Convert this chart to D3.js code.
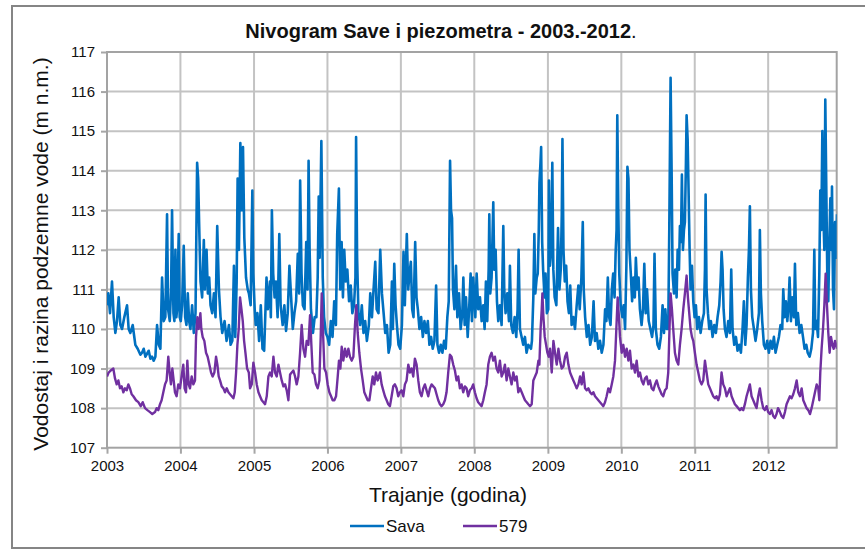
<!DOCTYPE html>
<html>
<head>
<meta charset="utf-8">
<script src="https://cdn.jsdelivr.net/npm/d3@7"></script>
<style>
  html, body { margin: 0; padding: 0; background: #fff; }
  svg { display: block; font-family: "Liberation Sans", Arial, sans-serif; }
</style>
</head>
<body>
<svg id="chart" width="865" height="550"></svg>
<script>
// Water level of the Sava river and groundwater level in piezometer 579, 2003-2012.
// Times are decimal years, levels in m a.s.l.

const years = [2003, 2004, 2005, 2006, 2007, 2008, 2009, 2010, 2011, 2012];
const levelTicks = [107, 108, 109, 110, 111, 112, 113, 114, 115, 116, 117];
const seriesNames = ["Sava", "579"];

const savaT = [
  2003.000,2003.018,2003.041,2003.068,2003.091,2003.114,2003.136,2003.159,2003.182,2003.205,2003.236,2003.273,2003.295,2003.318,2003.350,2003.386,2003.418,2003.455,2003.477,2003.500,2003.523,2003.568,2003.591,2003.614,2003.636,2003.659,2003.682,2003.705,2003.727,2003.750,2003.773,2003.795,2003.818,2003.832,2003.855,2003.873,2003.886,2003.905,2003.918,2003.932,2003.945,2003.955,2003.977,2003.990,
  2004.005,2004.023,2004.045,2004.064,2004.082,2004.100,2004.118,2004.136,2004.159,2004.182,2004.205,2004.227,2004.241,2004.255,2004.273,2004.295,2004.318,2004.332,2004.355,2004.373,2004.391,2004.409,2004.432,2004.455,2004.477,2004.500,2004.523,2004.545,2004.568,2004.600,2004.627,2004.659,2004.682,2004.705,2004.727,2004.745,2004.764,2004.777,2004.795,2004.814,2004.832,2004.850,2004.868,2004.891,2004.914,2004.930,2004.954,2004.977,2004.990,
  2005.009,2005.023,2005.046,2005.069,2005.092,2005.115,2005.138,2005.170,2005.188,2005.216,2005.229,2005.243,2005.261,2005.280,2005.298,2005.321,2005.344,2005.362,2005.390,2005.413,2005.436,2005.459,2005.482,2005.505,2005.528,2005.550,2005.573,2005.596,2005.615,2005.628,2005.647,2005.665,2005.688,2005.711,2005.729,2005.743,2005.757,2005.775,2005.803,2005.826,2005.849,2005.867,2005.881,2005.894,2005.917,2005.936,2005.954,2005.977,
  2006.000,2006.023,2006.046,2006.069,2006.092,2006.115,2006.133,2006.156,2006.174,2006.193,2006.211,2006.229,2006.248,2006.271,2006.294,2006.317,2006.339,2006.362,2006.381,2006.390,2006.404,2006.422,2006.445,2006.468,2006.491,2006.514,2006.537,2006.564,2006.583,2006.606,2006.628,2006.651,2006.670,2006.695,2006.719,2006.742,2006.765,2006.787,2006.810,2006.833,2006.855,2006.878,2006.891,2006.910,2006.928,2006.946,2006.968,2006.991,
  2007.014,2007.036,2007.054,2007.081,2007.100,2007.118,2007.136,2007.154,2007.172,2007.195,2007.213,2007.231,2007.253,2007.276,2007.299,2007.321,2007.344,2007.367,2007.389,2007.412,2007.434,2007.457,2007.480,2007.498,2007.520,2007.543,2007.566,2007.588,2007.611,2007.633,2007.652,2007.670,2007.683,2007.697,2007.710,2007.729,2007.751,2007.769,2007.792,2007.814,2007.837,2007.851,2007.869,2007.887,2007.910,2007.932,2007.950,2007.968,2007.986,
  2008.014,2008.032,2008.054,2008.077,2008.100,2008.122,2008.140,2008.158,2008.176,2008.195,2008.204,2008.217,2008.235,2008.258,2008.271,2008.290,2008.308,2008.326,2008.348,2008.371,2008.394,2008.407,2008.425,2008.448,2008.471,2008.484,2008.502,2008.525,2008.548,2008.570,2008.588,2008.602,2008.620,2008.643,2008.665,2008.688,2008.710,2008.733,2008.770,2008.783,2008.802,2008.816,2008.829,2008.848,2008.862,2008.876,2008.885,2008.899,2008.908,2008.922,2008.935,2008.954,2008.968,2008.986,
  2009.005,2009.014,2009.028,2009.046,2009.060,2009.074,2009.092,2009.115,2009.129,2009.138,2009.157,2009.175,2009.189,2009.198,2009.212,2009.230,2009.249,2009.267,2009.286,2009.304,2009.323,2009.346,2009.369,2009.392,2009.415,2009.433,2009.456,2009.475,2009.488,2009.507,2009.530,2009.553,2009.576,2009.599,2009.622,2009.641,2009.664,2009.687,2009.710,2009.733,2009.756,2009.779,2009.797,2009.816,2009.834,2009.853,2009.871,2009.889,2009.908,2009.922,2009.935,2009.945,2009.959,2009.972,2009.991,
  2010.014,2010.032,2010.051,2010.069,2010.083,2010.097,2010.111,2010.129,2010.147,2010.166,2010.184,2010.198,2010.217,2010.235,2010.253,2010.276,2010.295,2010.313,2010.332,2010.350,2010.373,2010.396,2010.419,2010.438,2010.452,2010.470,2010.493,2010.516,2010.539,2010.562,2010.581,2010.599,2010.618,2010.639,2010.653,2010.671,2010.685,2010.698,2010.717,2010.735,2010.753,2010.767,2010.785,2010.798,2010.812,2010.825,2010.839,2010.853,2010.866,2010.880,2010.889,2010.903,2010.916,2010.930,2010.943,2010.962,2010.980,2010.998,
  2011.016,2011.034,2011.057,2011.080,2011.102,2011.125,2011.139,2011.148,2011.161,2011.180,2011.198,2011.220,2011.243,2011.266,2011.288,2011.311,2011.334,2011.352,2011.366,2011.379,2011.393,2011.411,2011.433,2011.456,2011.479,2011.497,2011.515,2011.538,2011.561,2011.583,2011.606,2011.629,2011.651,2011.669,2011.688,2011.706,2011.724,2011.738,2011.751,2011.765,2011.783,2011.806,2011.828,2011.851,2011.874,2011.887,2011.901,2011.919,2011.942,2011.964,2011.987,
  2012.010,2012.032,2012.055,2012.078,2012.100,2012.123,2012.146,2012.168,2012.191,2012.205,2012.223,2012.241,2012.260,2012.277,2012.291,2012.309,2012.327,2012.350,2012.364,2012.382,2012.404,2012.427,2012.450,2012.473,2012.495,2012.518,2012.537,2012.563,2012.586,2012.609,2012.627,2012.640,2012.658,2012.677,2012.695,2012.708,2012.722,2012.736,2012.749,2012.763,2012.776,2012.790,2012.804,2012.817,2012.831,2012.845,2012.858,2012.867,2012.881,2012.894,2012.908,2012.922,2012.935
];
const savaLevel = [
  110.6,110.9,110.4,111.2,110.3,109.9,110.2,110.8,110.1,110.0,110.3,110.6,110.0,109.9,110.1,109.6,109.5,109.35,109.4,109.5,109.3,109.45,109.25,109.3,109.2,109.3,110.1,109.6,109.5,111.3,110.2,110.3,112.9,110.5,110.2,111.0,113.0,110.4,110.2,112.0,110.3,110.5,112.4,110.3,
  110.2,110.6,112.1,110.3,110.1,110.9,110.2,110.0,110.6,109.9,110.4,114.2,113.8,112.6,111.2,110.8,112.25,111.0,112.0,110.9,111.3,110.6,110.4,110.9,110.3,112.6,111.0,110.3,109.9,110.2,109.7,110.1,109.6,109.7,111.6,109.8,111.2,113.8,112.0,114.7,113.0,114.6,112.3,111.3,111.0,110.9,110.6,113.5,111.4,
  110.5,110.1,110.4,109.7,110.6,109.5,109.45,111.3,110.5,111.2,110.3,113.0,111.4,110.8,111.2,110.3,112.4,110.6,110.1,110.6,109.95,110.4,111.6,110.8,110.0,110.4,110.7,111.9,110.9,113.75,111.4,110.6,110.5,112.2,111.0,114.25,112.0,110.5,109.9,110.3,110.3,111.3,113.35,111.8,114.75,111.3,110.3,109.9,
  109.8,109.6,110.2,109.8,110.7,110.1,112.4,113.55,111.0,112.2,110.8,112.0,111.2,111.5,110.7,111.1,110.4,110.6,111.3,114.85,111.8,110.4,110.1,110.6,109.9,110.2,109.7,110.1,110.9,110.3,111.0,111.7,110.5,110.4,112.0,110.9,110.4,109.9,110.1,109.4,109.6,111.2,110.0,111.65,110.6,110.1,109.6,109.5,
  110.1,111.95,110.6,112.4,111.0,111.4,111.7,110.5,110.3,112.2,110.8,110.5,110.0,110.3,109.8,110.2,109.9,110.2,109.6,109.8,109.5,109.7,111.1,109.6,109.4,109.6,109.4,109.7,109.5,110.3,110.7,114.25,113.0,112.8,111.0,110.5,111.6,110.3,110.9,110.0,110.4,111.3,110.1,110.8,109.8,110.6,111.4,110.2,111.3,
  110.3,111.4,110.5,110.8,110.2,110.6,110.0,111.2,110.2,111.5,112.9,110.9,111.3,113.2,111.5,112.0,110.7,110.2,110.6,110.1,112.6,111.0,110.4,110.9,110.2,111.6,110.1,109.9,110.3,109.8,110.5,112.0,110.0,109.8,109.6,109.8,109.4,109.6,109.5,109.7,110.8,112.4,110.9,111.3,111.4,112.5,113.7,114.2,114.6,112.2,111.5,110.8,111.4,110.4,
  110.5,113.75,111.6,112.0,114.2,111.5,110.8,110.6,111.8,112.55,111.0,111.5,112.9,114.8,112.0,111.2,111.6,110.7,110.4,111.1,110.1,110.3,110.0,110.6,111.1,110.5,111.3,112.7,111.0,110.3,109.8,110.1,109.6,109.8,110.7,109.7,109.9,109.5,109.7,109.4,109.6,110.5,110.2,111.3,110.3,110.1,111.0,111.4,110.8,111.9,112.5,115.4,113.0,111.4,110.6,
  110.3,110.6,110.0,111.6,114.1,113.8,112.0,111.4,110.7,111.3,110.8,111.8,111.0,111.3,110.5,110.1,110.5,111.65,110.4,111.0,110.2,110.0,109.8,110.1,111.9,110.0,109.6,109.5,109.8,110.6,109.9,110.5,110.0,110.0,112.5,116.35,114.0,111.4,110.9,111.5,110.8,112.0,111.5,112.6,112.2,113.9,112.0,112.5,112.7,114.2,115.4,114.8,113.5,112.0,111.0,111.6,110.7,110.3,
  110.6,110.0,110.3,109.9,110.2,110.4,111.5,113.4,111.0,110.4,110.0,110.2,109.8,110.1,109.9,110.3,110.6,111.2,111.95,111.5,110.5,110.0,109.8,110.2,109.9,111.5,110.0,109.6,109.8,109.45,109.6,109.4,110.0,110.7,109.6,110.1,111.3,112.0,113.1,111.0,110.3,110.0,109.7,110.0,110.4,112.5,110.9,110.2,109.6,109.5,109.7,
  109.4,109.7,109.5,109.8,109.4,109.6,109.8,110.1,110.0,111.0,110.3,110.7,110.2,110.6,111.3,110.2,110.8,110.3,111.65,110.1,110.4,109.9,110.1,109.8,109.5,109.6,109.4,109.3,109.5,109.9,112.0,110.0,110.2,109.8,111.4,113.5,112.5,115.0,113.0,112.0,115.8,113.5,111.2,110.7,112.2,113.3,112.0,113.6,111.0,110.5,112.7,111.8,112.9
];

const p579T = [
  2003.000,2003.023,2003.050,2003.086,2003.109,2003.132,2003.155,2003.177,2003.200,2003.223,2003.245,2003.268,2003.291,2003.313,2003.336,2003.359,2003.395,2003.427,2003.459,2003.486,2003.518,2003.550,2003.586,2003.617,2003.654,2003.676,2003.699,2003.722,2003.744,2003.767,2003.790,2003.812,2003.835,2003.853,2003.871,2003.890,2003.908,2003.926,2003.948,2003.971,2003.994,
  2004.016,2004.039,2004.057,2004.076,2004.094,2004.112,2004.130,2004.153,2004.176,2004.198,2004.212,2004.230,2004.248,2004.271,2004.284,2004.302,2004.325,2004.348,2004.370,2004.393,2004.416,2004.438,2004.461,2004.484,2004.502,2004.520,2004.538,2004.561,2004.584,2004.606,2004.629,2004.652,2004.674,2004.697,2004.720,2004.738,2004.756,2004.774,2004.792,2004.810,2004.829,2004.847,2004.865,2004.883,2004.906,2004.929,2004.946,2004.969,2004.991,
  2005.014,2005.037,2005.060,2005.082,2005.105,2005.128,2005.150,2005.173,2005.196,2005.218,2005.241,2005.264,2005.286,2005.309,2005.332,2005.354,2005.377,2005.400,2005.423,2005.445,2005.468,2005.491,2005.513,2005.536,2005.559,2005.581,2005.604,2005.627,2005.649,2005.672,2005.695,2005.717,2005.740,2005.763,2005.781,2005.799,2005.822,2005.844,2005.867,2005.890,2005.908,2005.922,2005.940,2005.958,2005.981,
  2006.003,2006.026,2006.049,2006.071,2006.094,2006.117,2006.140,2006.157,2006.176,2006.194,2006.216,2006.239,2006.262,2006.285,2006.307,2006.330,2006.353,2006.375,2006.393,2006.412,2006.434,2006.457,2006.480,2006.502,2006.525,2006.548,2006.571,2006.593,2006.616,2006.638,2006.661,2006.684,2006.715,2006.738,2006.760,2006.783,2006.806,2006.828,2006.851,2006.874,2006.896,2006.919,2006.942,2006.964,2006.987,
  2007.010,2007.033,2007.055,2007.078,2007.101,2007.123,2007.146,2007.169,2007.191,2007.214,2007.237,2007.259,2007.282,2007.305,2007.327,2007.350,2007.373,2007.396,2007.418,2007.441,2007.464,2007.486,2007.509,2007.532,2007.554,2007.577,2007.600,2007.622,2007.645,2007.668,2007.690,2007.713,2007.736,2007.758,2007.781,2007.804,2007.827,2007.849,2007.872,2007.895,2007.917,2007.940,2007.963,2007.985,
  2008.008,2008.031,2008.053,2008.076,2008.099,2008.122,2008.144,2008.167,2008.190,2008.212,2008.235,2008.258,2008.280,2008.303,2008.326,2008.348,2008.371,2008.394,2008.416,2008.439,2008.462,2008.484,2008.507,2008.530,2008.553,2008.575,2008.598,2008.621,2008.644,2008.666,2008.689,2008.712,2008.734,2008.757,2008.780,2008.802,2008.825,2008.848,2008.871,2008.884,2008.902,2008.916,2008.925,2008.939,2008.957,2008.975,2008.993,
  2009.011,2009.029,2009.052,2009.075,2009.097,2009.120,2009.143,2009.165,2009.188,2009.211,2009.234,2009.256,2009.279,2009.302,2009.324,2009.347,2009.370,2009.392,2009.415,2009.438,2009.460,2009.483,2009.506,2009.528,2009.551,2009.574,2009.597,2009.619,2009.642,2009.665,2009.687,2009.710,2009.733,2009.755,2009.778,2009.800,2009.823,2009.846,2009.869,2009.891,2009.914,2009.932,2009.950,2009.964,2009.982,
  2010.005,2010.027,2010.050,2010.073,2010.096,2010.118,2010.141,2010.164,2010.186,2010.209,2010.232,2010.254,2010.277,2010.300,2010.322,2010.345,2010.368,2010.390,2010.413,2010.436,2010.459,2010.481,2010.504,2010.526,2010.549,2010.571,2010.594,2010.617,2010.639,2010.653,2010.671,2010.689,2010.707,2010.730,2010.753,2010.776,2010.798,2010.821,2010.844,2010.866,2010.889,2010.907,2010.925,2010.943,2010.962,2010.980,
  2011.002,2011.025,2011.048,2011.070,2011.093,2011.116,2011.139,2011.161,2011.184,2011.207,2011.229,2011.252,2011.275,2011.297,2011.320,2011.343,2011.365,2011.388,2011.411,2011.434,2011.456,2011.479,2011.502,2011.524,2011.547,2011.570,2011.592,2011.615,2011.638,2011.661,2011.683,2011.706,2011.729,2011.751,2011.774,2011.797,2011.819,2011.842,2011.865,2011.887,2011.910,2011.933,2011.955,2011.978,
  2012.000,2012.023,2012.046,2012.069,2012.091,2012.114,2012.134,2012.160,2012.182,2012.205,2012.228,2012.250,2012.273,2012.296,2012.318,2012.341,2012.364,2012.387,2012.409,2012.432,2012.455,2012.477,2012.500,2012.522,2012.545,2012.568,2012.590,2012.613,2012.636,2012.659,2012.681,2012.695,2012.708,2012.726,2012.745,2012.763,2012.781,2012.799,2012.817,2012.835,2012.854,2012.872,2012.890,2012.908,2012.922,2012.935
];
const p579Level = [
  108.8,108.9,108.95,109.0,108.75,108.6,108.7,108.5,108.55,108.4,108.5,108.45,108.6,108.5,108.35,108.3,108.2,108.15,108.05,108.15,108.0,107.95,107.9,107.85,107.9,108.0,107.95,108.1,108.2,108.4,108.6,108.7,109.3,108.9,108.6,109.0,108.7,108.4,108.3,108.6,108.5,
  108.8,109.1,108.5,108.4,109.2,108.6,108.5,108.8,108.6,108.7,109.8,110.3,110.0,110.4,110.0,109.8,109.7,109.4,109.3,109.1,108.9,108.8,108.9,109.3,109.1,108.8,108.7,108.55,108.5,108.4,108.5,108.4,108.35,108.3,108.25,108.4,108.9,109.6,110.0,110.8,110.5,110.2,109.7,109.4,109.0,108.9,108.5,108.6,109.15,
  108.9,108.6,108.4,108.3,108.2,108.15,108.1,108.3,108.8,108.9,108.8,109.3,108.9,108.8,109.1,108.9,108.7,108.55,108.6,108.45,108.2,108.85,108.9,108.95,108.8,108.6,108.8,109.4,110.1,109.5,109.3,109.7,109.6,110.35,109.6,108.9,108.85,108.6,108.5,108.7,109.8,110.9,109.9,109.0,108.9,
  108.6,108.4,108.3,108.2,108.2,108.3,108.8,109.2,109.0,109.55,109.2,109.5,109.3,109.5,109.3,109.2,109.3,110.1,110.6,109.9,109.4,109.0,108.7,108.4,108.3,108.2,108.2,108.5,108.8,108.6,108.9,108.7,108.9,108.6,108.45,108.3,108.2,108.1,108.05,108.3,108.55,108.6,108.5,108.3,108.4,
  108.45,108.3,108.6,108.7,109.1,108.9,109.0,108.8,109.25,109.1,108.7,108.4,108.3,108.5,108.6,108.45,108.3,108.5,108.6,108.55,108.5,108.35,108.2,108.1,108.05,108.1,108.2,108.4,108.9,109.35,109.3,109.1,108.95,108.7,108.8,108.5,108.6,108.4,108.55,108.5,108.3,108.45,108.5,108.6,
  108.4,108.25,108.15,108.1,108.05,108.2,108.4,108.6,109.1,109.3,109.4,109.2,109.3,109.0,108.9,109.2,108.8,108.9,109.1,108.7,109.0,108.8,108.6,108.9,108.7,108.8,108.4,108.5,108.4,108.3,108.2,108.15,108.1,108.05,108.1,108.7,108.8,108.9,109.2,109.1,110.05,110.5,110.9,110.3,109.8,109.6,109.4,
  109.3,109.5,108.9,109.7,109.4,109.1,109.5,109.2,109.0,109.05,109.3,109.4,109.1,108.9,108.8,108.7,108.6,108.5,108.6,108.8,108.6,108.9,108.5,108.45,108.5,108.4,108.35,108.4,108.3,108.25,108.2,108.15,108.1,108.05,108.15,108.3,108.5,108.4,108.6,108.8,109.2,110.0,110.8,110.4,109.8,
  109.4,109.6,109.3,109.5,109.2,109.45,109.0,109.1,108.9,109.2,108.8,108.9,108.7,108.6,108.75,108.8,108.6,108.7,108.5,108.45,108.6,108.7,108.55,108.45,108.35,108.3,108.45,108.5,108.9,109.8,110.9,110.5,110.0,109.4,109.2,109.1,109.6,110.0,110.5,110.9,111.35,110.8,110.4,110.0,109.8,109.7,
  109.4,109.1,108.9,108.7,108.6,108.7,109.2,108.9,108.6,108.5,108.4,108.3,108.25,108.3,108.2,108.35,108.9,108.6,108.5,108.3,108.4,108.5,108.3,108.2,108.1,108.05,108.0,107.95,108.0,107.95,108.1,108.3,108.45,108.6,108.3,108.2,108.1,108.0,108.3,108.5,108.2,108.0,107.95,108.05,
  107.9,107.85,107.95,107.8,107.75,107.85,108.0,107.9,107.8,107.75,107.9,108.1,108.2,108.3,108.25,108.35,108.5,108.7,108.4,108.3,108.5,108.2,108.1,108.0,107.95,107.85,108.0,108.2,108.4,108.6,108.5,108.2,108.9,109.5,110.0,110.6,111.4,110.6,109.9,109.4,109.8,109.6,109.5,109.7,109.6,109.5
];

// decimal year -> UTC date
function yearToDate(t) {
  const y = Math.floor(t + 1e-9);
  const a = Date.UTC(y, 0, 1), b = Date.UTC(y + 1, 0, 1);
  return new Date(a + (t - y) * (b - a));
}

const series = [
  { name: seriesNames[0], color: "#0070c0", width: 2.6, points: savaT.map((t, i) => ({ date: yearToDate(t), v: savaLevel[i] })) },
  { name: seriesNames[1], color: "#7030a0", width: 2.4, points: p579T.map((t, i) => ({ date: yearToDate(t), v: p579Level[i] })) }
];

const svg = d3.select("#chart");
const width = 865, height = 550;
const m = { left: 107, top: 52, right: 836.7, bottom: 447.7 };

svg.append("rect").attr("width", width).attr("height", height).attr("fill", "#fff");

// outer chart border
svg.append("rect")
  .attr("x", 12).attr("y", 6).attr("width", 880).attr("height", 542)
  .attr("fill", "none").attr("stroke", "#858585").attr("stroke-width", 2);

const x = d3.scaleUtc()
  .domain([yearToDate(years[0]), yearToDate(2012.931)])
  .range([m.left, m.right]);
const y = d3.scaleLinear()
  .domain([levelTicks[0], levelTicks[levelTicks.length - 1]])
  .range([m.bottom, m.top]);

const yearDates = years.map(yr => yearToDate(yr));

// grid
const grid = svg.append("g").attr("stroke", "#c3c3c3").attr("stroke-width", 2);
grid.selectAll("line.h").data(levelTicks.slice(1, -1)).join("line")
  .attr("x1", m.left).attr("x2", m.right)
  .attr("y1", d => y(d)).attr("y2", d => y(d));
grid.selectAll("line.v").data(yearDates.slice(1)).join("line")
  .attr("y1", m.top).attr("y2", m.bottom)
  .attr("x1", d => x(d)).attr("x2", d => x(d));

// axes
const yAxis = d3.axisLeft(y).tickValues(levelTicks).tickSize(6).tickPadding(6).tickFormat(d3.format("d"));
const xAxis = d3.axisBottom(x).tickValues(yearDates).tickSize(6).tickPadding(7)
  .tickFormat(d => String(d.getUTCFullYear()));

const gy = svg.append("g").attr("transform", `translate(${m.left},0)`).call(yAxis);
const gx = svg.append("g").attr("transform", `translate(0,${m.bottom})`).call(xAxis);
[gx, gy].forEach(g => {
  g.select(".domain").remove();
  g.selectAll(".tick line").attr("stroke", "#a6a6a6").attr("stroke-width", 2);
  g.selectAll(".tick text").attr("fill", "#111").style("font-size", "15px")
    .style("font-family", '"Liberation Sans", Arial, sans-serif');
});

// plot frame
svg.append("rect")
  .attr("x", m.left).attr("y", m.top)
  .attr("width", m.right - m.left).attr("height", m.bottom - m.top)
  .attr("fill", "none").attr("stroke", "#a3a3a3").attr("stroke-width", 2);

// series lines
svg.append("clipPath").attr("id", "plot-clip").append("rect")
  .attr("x", m.left).attr("y", m.top)
  .attr("width", m.right - m.left).attr("height", m.bottom - m.top);

const line = d3.line().x(d => x(d.date)).y(d => y(d.v));
svg.append("g").attr("clip-path", "url(#plot-clip)")
  .selectAll("path").data(series).join("path")
  .attr("d", d => line(d.points))
  .attr("fill", "none")
  .attr("stroke", d => d.color)
  .attr("stroke-width", d => d.width)
  .attr("stroke-linejoin", "round");

// title
const title = svg.append("text")
  .attr("x", 441).attr("y", 38).attr("text-anchor", "middle")
  .style("font-size", "20px").attr("fill", "#111");
title.append("tspan").style("font-weight", "bold").text("Nivogram Save i piezometra - 2003.-2012");
title.append("tspan").text(".");

// axis titles
svg.append("text")
  .attr("x", 448).attr("y", 502).attr("text-anchor", "middle")
  .style("font-size", "21px").attr("fill", "#111")
  .text("Trajanje (godina)");
svg.append("text")
  .attr("transform", "translate(48,254) rotate(-90)").attr("text-anchor", "middle")
  .style("font-size", "21px").attr("fill", "#111")
  .text("Vodostaj i razina podzemne vode (m n.m.)");

// legend
const legend = svg.append("g");
const legendX = [350, 463];
series.forEach((s, i) => {
  const g = legend.append("g").attr("transform", `translate(${legendX[i]},526)`);
  g.append("line").attr("x1", 0).attr("x2", 34).attr("stroke", s.color).attr("stroke-width", 2.5);
  g.append("text").attr("x", 36).attr("y", 6).style("font-size", "17px").attr("fill", "#111").text(s.name);
});
</script>
</body>
</html>
